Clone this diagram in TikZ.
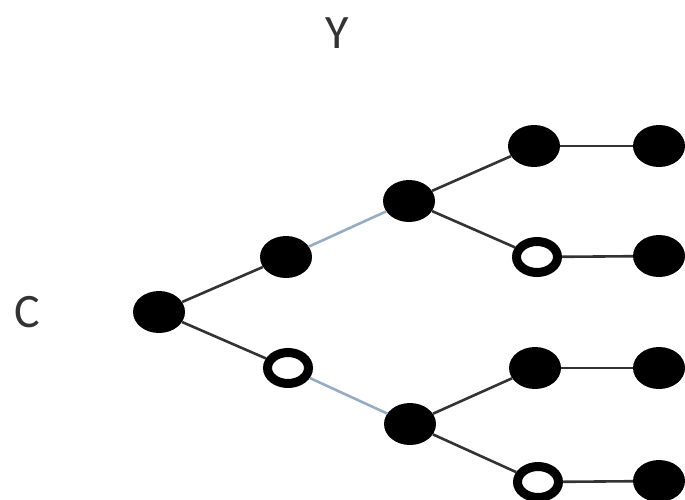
\documentclass[tikz,border=0pt]{standalone}
\usepackage{fontspec}
\setmainfont{Carlito}
\usetikzlibrary{shapes.geometric}
\begin{document}
\begin{tikzpicture}[x=1pt,y=-1pt,
  full/.style={ellipse,fill=black,minimum width=52pt,minimum height=42pt,inner sep=0pt},
  hollow/.style={ellipse,draw=black,fill=white,line width=9pt,minimum width=41pt,minimum height=31pt,inner sep=0pt},
  edge/.style={draw=black!80,line width=2.6pt},
  pale/.style={draw=black!80,line width=2.6pt,draw={rgb,255:red,150;green,172;blue,196}},
  lbl/.style={font=\fontsize{48}{48}\selectfont,text=black!80}]
\useasboundingbox (0,0) rectangle (685,499);
\clip (0,0) rectangle (685,499);
\node[lbl] (Y) at (337,33) {Y};
\node[lbl] (C) at (27,312) {C};
\node[full] (r) at (159,312) {};
\node[full] (a) at (286,257) {};
\node[hollow] (b) at (288,368) {};
\node[full] (c) at (409,201) {};
\node[full] (d) at (410,424) {};
\node[full] (c1) at (534,146) {};
\node[hollow] (c2) at (537,257) {};
\node[full] (d1) at (535,368) {};
\node[hollow] (d2) at (538,482) {};
\node[full] (e1) at (659,146) {};
\node[full] (e2) at (659,256) {};
\node[full] (e3) at (659,368) {};
\node[full] (e4) at (659,481) {};
\draw[edge] (r) -- (a);
\draw[edge] (r) -- (b);
\draw[pale] (a) -- (c);
\draw[pale] (b) -- (d);
\draw[edge] (c) -- (c1);
\draw[edge] (c) -- (c2);
\draw[edge] (d) -- (d1);
\draw[edge] (d) -- (d2);
\draw[edge] (c1) -- (e1);
\draw[edge] (c2) -- (e2);
\draw[edge] (d1) -- (e3);
\draw[edge] (d2) -- (e4);
\end{tikzpicture}
\end{document}
